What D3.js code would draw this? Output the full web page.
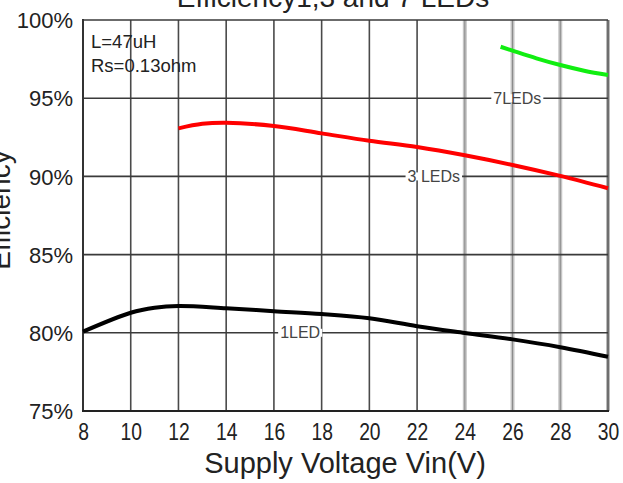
<!DOCTYPE html>
<html><head><meta charset="utf-8">
<script src="https://cdn.jsdelivr.net/npm/d3@7"></script>
<style>
html,body{margin:0;padding:0;background:#fff;}
svg{display:block;font-family:"Liberation Sans",Arial,sans-serif;}
</style></head>
<body>
<svg id="c" width="623" height="483"></svg>
<script>
// ---- data ----
const xTicks = [8,10,12,14,16,18,20,22,24,26,28,30];
const yTicks = [75,80,85,90,95,100];
const v1 = [8,10,11,12,14,16,18,20,22,24,26,28,30];
const eff1 = [80.07,81.28,81.6,81.71,81.57,81.38,81.2,80.93,80.42,79.99,79.58,79.08,78.47];
const v3 = [12,13,14,16,18,20,22,24,26,28,30];
const eff3 = [93.07,93.36,93.43,93.22,92.75,92.28,91.88,91.35,90.73,90.03,89.24];
const v7 = [25.5,26,27,28,29,30];
const eff7 = [98.29,98.04,97.55,97.12,96.76,96.48];
const seriesNames = ["1LED","3 LEDs","7LEDs"];
const labelPos = [[17.1,80],[22.7,90],[26.2,95]];
const notes = ["L=47uH","Rs=0.13ohm"];
const titleText = "Efficiency1,3 and 7 LEDs";
const xTitle = "Supply Voltage Vin(V)";
const yTitle = "Efficiency";

// ---- layout ----
const L=83,R=608,T=20,B=411;
const x = d3.scaleLinear().domain([8,30]).range([L,R]);
const y = d3.scaleLinear().domain([75,100]).range([B,T]);
const svg = d3.select("#c");

// vertical grid
const g = svg.append("g");
xTicks.filter(t=>t>8 && t<30).forEach(t=>{
  const light = t>=24;
  if(light){
    g.append("line").attr("x1",x(t)).attr("x2",x(t)).attr("y1",T).attr("y2",B)
      .attr("stroke","#c4c4c4").attr("stroke-width",4);
    g.append("line").attr("x1",x(t)).attr("x2",x(t)).attr("y1",T).attr("y2",B)
      .attr("stroke","#8a8a8a").attr("stroke-width",1);
  } else {
    g.append("line").attr("x1",x(t)).attr("x2",x(t)).attr("y1",T).attr("y2",B)
      .attr("stroke","#4a4a4a").attr("stroke-width",1.6);
  }
});
// right border
g.append("line").attr("x1",x(30)).attr("x2",x(30)).attr("y1",T).attr("y2",B)
  .attr("stroke","#bbb").attr("stroke-width",4);
g.append("line").attr("x1",x(30)).attr("x2",x(30)).attr("y1",T).attr("y2",B)
  .attr("stroke","#555").attr("stroke-width",1.5);
// horizontal grid
yTicks.filter(t=>t>75).forEach(t=>{
  g.append("line").attr("x1",L).attr("x2",R).attr("y1",y(t)).attr("y2",y(t))
    .attr("stroke","#3a3a3a").attr("stroke-width",1.6);
});
// left & bottom border
g.append("line").attr("x1",L).attr("x2",L).attr("y1",T-1).attr("y2",B+1).attr("stroke","#333").attr("stroke-width",2);
g.append("line").attr("x1",L-1).attr("x2",R+1).attr("y1",B).attr("y2",B).attr("stroke","#222").attr("stroke-width",2.2);

// axes (labels)
const xAxis = svg.append("g").attr("transform",`translate(0,${B})`)
  .call(d3.axisBottom(x).tickValues(xTicks).tickSize(0).tickPadding(0).tickFormat(d3.format("d")));
xAxis.select(".domain").remove();
xAxis.selectAll("text").attr("y",29).attr("dy",0).attr("fill","#222")
  .style("font-size","23px").attr("transform","scale(0.84,1)");

const yAxis = svg.append("g").attr("transform",`translate(${L},0)`)
  .call(d3.axisLeft(y).tickValues(yTicks).tickSize(0).tickPadding(0).tickFormat(d=>d+"%"));
yAxis.select(".domain").remove();
yAxis.selectAll("text").attr("x",-10).attr("dy","0.35em").attr("fill","#222")
  .style("font-size","22px");

// series labels (with white background)
seriesNames.forEach((n,i)=>{
  const [lx,ly] = labelPos[i];
  const lg = svg.append("g");
  const r = lg.append("rect").attr("fill","#fff");
  const t = lg.append("text").attr("x",x(lx)).attr("y",y(ly)).attr("dy","0.35em")
    .attr("text-anchor","middle").style("font-size","16px").attr("fill","#444").text(n);
  const bb = t.node().getBBox();
  r.attr("x",bb.x-2).attr("y",y(ly)-4).attr("width",bb.width+4).attr("height",8);
});

// curves
const line = d3.line().x(d=>x(d[0])).y(d=>y(d[1])).curve(d3.curveCatmullRom.alpha(0.5));
const curves = [[v1,eff1,"#000000"],[v3,eff3,"#ff0000"],[v7,eff7,"#11ee11"]];
curves.forEach(([xs,ys,c])=>{
  svg.append("path").datum(xs.map((v,i)=>[v,ys[i]])).attr("d",line)
    .attr("fill","none").attr("stroke",c).attr("stroke-width",4).attr("stroke-linecap","butt");
});

// notes
notes.forEach((n,i)=>{
  svg.append("text").attr("x",91).attr("y",48+i*23.5).style("font-size","18.5px")
    .attr("fill","#222").text(n);
});

// titles
svg.append("text").attr("x",333).attr("y",7).attr("text-anchor","middle")
  .style("font-size","28px").attr("fill","#222").text(titleText);
svg.append("text").attr("x",345).attr("y",473).attr("text-anchor","middle")
  .style("font-size","29px").attr("fill","#222").text(xTitle);
svg.append("text").attr("transform","translate(10,210) rotate(-90)").attr("text-anchor","middle")
  .style("font-size","28px").attr("fill","#222").text(yTitle);
</script>
</body></html>
